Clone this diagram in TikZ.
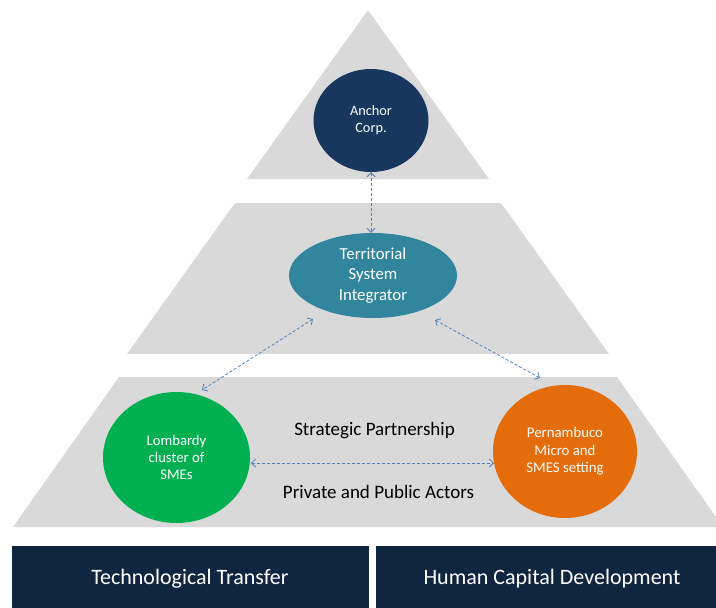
\documentclass[tikz,border=0pt]{standalone}
\usepackage{fontspec}
\setmainfont{Carlito}
\usetikzlibrary{arrows.meta,shapes.geometric}
\definecolor{pgray}{HTML}{D9D9D9}
\definecolor{anchornavy}{HTML}{17375E}
\definecolor{tealc}{HTML}{31859C}
\definecolor{greenc}{HTML}{00B050}
\definecolor{orangec}{HTML}{E46C0A}
\definecolor{bandnavy}{HTML}{10253F}
\definecolor{linkblue}{HTML}{4F81BD}
\begin{document}
\begin{tikzpicture}[x=1pt,y=-1pt,
  tier/.style={fill=pgray, draw=none},
  actor/.style={ellipse, draw=none, inner sep=0pt, align=center, text=white},
  link/.style={draw=linkblue, line width=0.8pt, dash pattern=on 3pt off 2pt,
    {Straight Barb[length=4pt,width=8pt]}-{Straight Barb[length=4pt,width=8pt]}},
  band/.style={fill=bandnavy, inner sep=0pt, minimum height=62pt},
  bandtext/.style={text=white, inner sep=0pt, font=\fontsize{22}{26}\selectfont},
  label/.style={text=black, inner sep=0pt, font=\fontsize{19}{23}\selectfont}]
\useasboundingbox (0,0) rectangle (716,608);
% tiers
\fill[tier] (368,10) -- (489,179) -- (247,179) -- cycle;
\fill[tier] (235,203) -- (501,203) -- (609,354) -- (127,354) -- cycle;
\fill[tier] (119,377) -- (617,377) -- (716,517) -- (716,527) -- (13,527) -- cycle;
% actors
\node[actor, fill=anchornavy, minimum width=115pt, minimum height=103pt,
  font=\fontsize{14.3}{17}\selectfont] (anchor) at (371,120.5) {Anchor\\Corp.};
\node[actor, fill=tealc, minimum width=168pt, minimum height=85pt,
  font=\fontsize{16.8}{20.8}\selectfont] (tsi) at (373,275.5) {Territorial\\System\\Integrator};
\node[actor, fill=greenc, minimum width=147pt, minimum height=131pt,
  font=\fontsize{14.7}{16.8}\selectfont] (lomb) at (176.5,457.5) {Lombardy\\cluster of\\SMEs};
\node[actor, fill=orangec, minimum width=144pt, minimum height=133pt,
  font=\fontsize{14.8}{17.5}\selectfont] (pern) at (565,451.5) {Pernambuco\\Micro and\\SMES setting};
% labels
\node[label] (sp) at (374.5,431) {Strategic Partnership};
\node[label] (ppa) at (378.5,492) {Private and Public Actors};
% connector end points
\coordinate (l1) at (313,319);
\coordinate (l2) at (202,390);
\coordinate (r1) at (435,320);
\coordinate (r2) at (540,378);
\coordinate (h1) at (251,463);
\coordinate (h2) at (494,463);
% connectors
\draw[link] (anchor.south) -- (anchor.south |- tsi.north);
\draw[link] (l1) -- (l2);
\draw[link] (r1) -- (r2);
\draw[link] (h1) -- (h2);
% bottom bands
\node[band, minimum width=357pt] (tt) at (190.5,577) {};
\node[band, minimum width=352pt] (hcd) at (552,577) {};
\node[bandtext] (ttl) at (190,578.5) {Technological Transfer};
\node[bandtext] (hcdl) at (552,578.5) {Human Capital Development};
\end{tikzpicture}
\end{document}
